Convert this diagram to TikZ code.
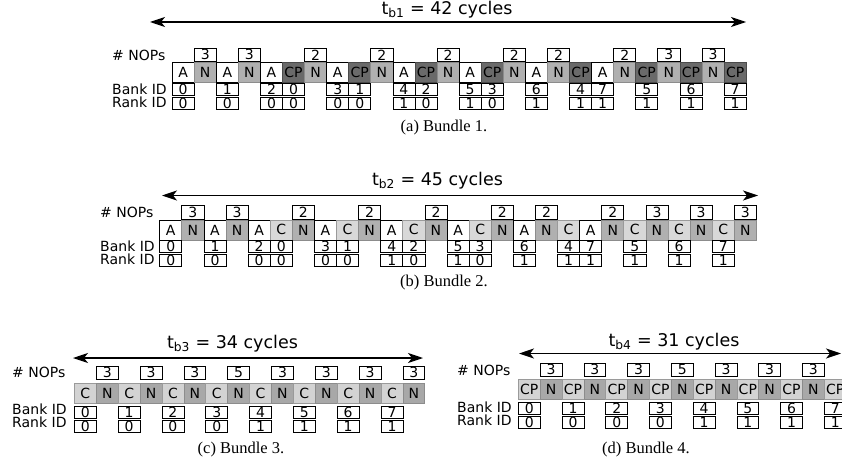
\documentclass[tikz,border=0pt]{standalone}
\usepackage{fontspec}
\setmainfont{DejaVu Sans}
\newfontfamily\capfont{Liberation Serif}
\usetikzlibrary{arrows.meta}
\definecolor{nfill}{HTML}{B0B0B0}
\definecolor{nline}{HTML}{8C8C8C}
\definecolor{pfill}{HTML}{6A6A6A}
\definecolor{pline}{HTML}{4A4A4A}
\definecolor{cfill}{HTML}{D8D8D8}
\definecolor{cline}{HTML}{9A9A9A}
\definecolor{lfill}{HTML}{D3D3D3}
\definecolor{dfill}{HTML}{A8A8A8}
\def\lblA{A}\def\lblN{N}\def\lblP{CP}\def\lblC{C}\def\lblQ{C}\def\lblM{N}\def\lblR{CP}
\tikzset{
  txt/.style={font=\fontsize{14}{16}\selectfont, inner sep=0pt},
  cellbase/.style={txt, minimum height=20pt, line width=0.8pt, anchor=north west},
  cA/.style={cellbase, fill=white, draw=black},
  cN/.style={cellbase, fill=nfill, draw=nline},
  cP/.style={cellbase, fill=pfill, draw=pline},
  cC/.style={cellbase, fill=cfill, draw=cline},
  cQ/.style={cellbase, fill=lfill, draw=cline},
  cM/.style={cellbase, fill=dfill, draw=nline},
  cR/.style={cellbase, fill=lfill, draw=cline},
  nopbox/.style={txt, draw=black, fill=white, minimum height=13.5pt, line width=0.8pt, anchor=south west},
  idbox/.style={txt, draw=black, fill=white, minimum height=12pt, line width=0.8pt, anchor=north west},
  rowlabel/.style={txt, anchor=west},
  titletext/.style={font=\fontsize{17.5}{20}\selectfont, inner sep=0pt, anchor=base},
  captext/.style={font=\capfont\fontsize{16.5}{19}\selectfont, inner sep=0pt},
  timearrow/.style={line width=1.2pt, {Stealth[length=15pt,width=10pt,inset=4pt]}-{Stealth[length=15pt,width=10pt,inset=4pt]}},
}
\begin{document}
\begin{tikzpicture}[x=1pt,y=-1pt]
\useasboundingbox (0,0) rectangle (842,468);
% ---------------- Bundle 1
\def\pw{22.08}
\foreach \t [count=\i] in {A,N,A,N,A,P,N,A,P,N,A,P,N,A,P,N,A,N,P,A,N,P,N,P,N,P}
  \node[c\t, minimum width=\pw pt] (a\i) at ({171.7+(\i-1)*\pw},62) {\csname lbl\t\endcsname};
\foreach \i/\v in {2/3,4/3,7/2,10/2,13/2,16/2,18/2,21/2,23/3,25/3}
  \node[nopbox, minimum width=\pw pt] (an\i) at (a\i.north west) {\v};
\foreach \i/\b/\r in {1/0/0,3/1/0,5/2/0,6/0/0,8/3/0,9/1/0,11/4/1,12/2/0,14/5/1,15/3/0,17/6/1,19/4/1,20/7/1,22/5/1,24/6/1,26/7/1}
  {\node[idbox, minimum width=\pw pt] (ab\i) at (a\i.south west) {\b};
   \node[idbox, minimum width=\pw pt] (ar\i) at ([yshift=-1pt]ab\i.south west) {\r};}
\node[rowlabel] (anl) at (112,55) {\# NOPs};
\node[rowlabel] (abl) at (112,89) {Bank ID};
\node[rowlabel] (arl) at (112,102.5) {Rank ID};
\node[titletext] (atitle) at (447,14.5) {t\textsubscript{b1} = 42 cycles};
\coordinate (aL) at (150,22); \coordinate (aR) at (746,22);
\draw[timearrow] (aL) -- (aR);
\node[captext] (acap) at (444,128) {(a) Bundle 1.};
% ---------------- Bundle 2
\def\pw{22.1}
\foreach \t [count=\i] in {A,N,A,N,A,C,N,A,C,N,A,C,N,A,C,N,A,N,C,A,N,C,N,C,N,C,N}
  \node[c\t, minimum width=\pw pt] (b\i) at ({159.3+(\i-1)*\pw},219.5) {\csname lbl\t\endcsname};
\foreach \i/\v in {2/3,4/3,7/2,10/2,13/2,16/2,18/2,21/2,23/3,25/3,27/3}
  \node[nopbox, minimum width=\pw pt] (bn\i) at (b\i.north west) {\v};
\foreach \i/\b/\r in {1/0/0,3/1/0,5/2/0,6/0/0,8/3/0,9/1/0,11/4/1,12/2/0,14/5/1,15/3/0,17/6/1,19/4/1,20/7/1,22/5/1,24/6/1,26/7/1}
  {\node[idbox, minimum width=\pw pt] (bb\i) at (b\i.south west) {\b};
   \node[idbox, minimum width=\pw pt] (br\i) at ([yshift=-1pt]bb\i.south west) {\r};}
\node[rowlabel] (bnl) at (100,212.5) {\# NOPs};
\node[rowlabel] (bbl) at (100,246) {Bank ID};
\node[rowlabel] (brl) at (100,259.5) {Rank ID};
\node[titletext] (btitle) at (437.5,185) {t\textsubscript{b2} = 45 cycles};
\coordinate (bL) at (162,195.5); \coordinate (bR) at (758,195.5);
\draw[timearrow] (bL) -- (bR);
\node[captext] (bcap) at (444,283) {(b) Bundle 2.};
% ---------------- Bundle 3
\def\pw{21.9}
\foreach \t [count=\i] in {Q,M,Q,M,Q,M,Q,M,Q,M,Q,M,Q,M,Q,M}
  \node[c\t, minimum width=\pw pt] (c\i) at ({74+(\i-1)*\pw},383) {\csname lbl\t\endcsname};
\foreach \i/\v in {2/3,4/3,6/3,8/5,10/3,12/3,14/3,16/3}
  \node[nopbox, minimum width=\pw pt] (cn\i) at ([yshift=3pt]c\i.north west) {\v};
\foreach \i/\b/\r in {1/0/0,3/1/0,5/2/0,7/3/0,9/4/1,11/5/1,13/6/1,15/7/1}
  {\node[idbox, minimum width=\pw pt] (cb\i) at ([yshift=-2pt]c\i.south west) {\b};
   \node[idbox, minimum width=\pw pt] (cr\i) at ([yshift=-1pt]cb\i.south west) {\r};}
\node[rowlabel] (cnl) at (12,372.5) {\# NOPs};
\node[rowlabel] (cbl) at (12,409.5) {Bank ID};
\node[rowlabel] (crl) at (12,422) {Rank ID};
\node[titletext] (ctitle) at (232.5,348) {t\textsubscript{b3} = 34 cycles};
\coordinate (cL) at (73,358); \coordinate (cR) at (423,358);
\draw[timearrow] (cL) -- (cR);
\node[captext] (ccap) at (241,450) {(c) Bundle 3.};
% ---------------- Bundle 4
\def\pw{21.85}
\foreach \t [count=\i] in {R,M,R,M,R,M,R,M,R,M,R,M,R,M,R}
  \node[c\t, minimum width=\pw pt] (d\i) at ({518+(\i-1)*\pw},379) {\csname lbl\t\endcsname};
\foreach \i/\v in {2/3,4/3,6/3,8/5,10/3,12/3,14/3}
  \node[nopbox, minimum width=\pw pt] (dn\i) at ([yshift=2pt]d\i.north west) {\v};
\foreach \i/\b/\r in {1/0/0,3/1/0,5/2/0,7/3/0,9/4/1,11/5/1,13/6/1,15/7/1}
  {\node[idbox, minimum width=\pw pt] (db\i) at ([yshift=-2pt]d\i.south west) {\b};
   \node[idbox, minimum width=\pw pt] (dr\i) at ([yshift=-1pt]db\i.south west) {\r};}
\node[rowlabel] (dnl) at (457,370.5) {\# NOPs};
\node[rowlabel] (dbl) at (457,407.5) {Bank ID};
\node[rowlabel] (drl) at (457,420.5) {Rank ID};
\node[titletext] (dtitle) at (674,346) {t\textsubscript{b4} = 31 cycles};
\coordinate (dL) at (519,353.5); \coordinate (dR) at (841,353.5);
\draw[timearrow] (dL) -- (dR);
\node[captext] (dcap) at (646,450) {(d) Bundle 4.};
\end{tikzpicture}
\end{document}
